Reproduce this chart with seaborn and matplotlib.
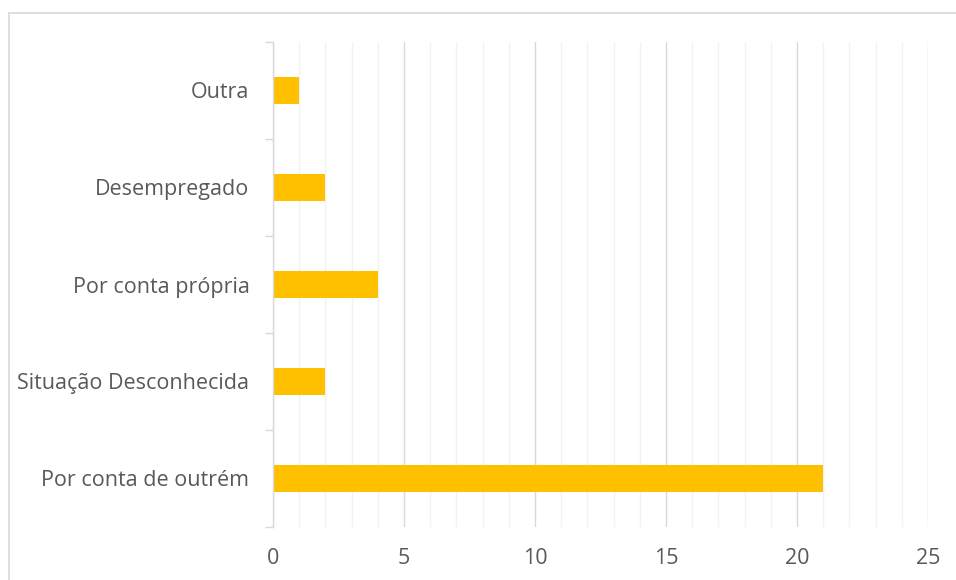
import matplotlib
matplotlib.use("Agg")
import matplotlib.pyplot as plt
import matplotlib.patches as mpatches
from matplotlib.ticker import MultipleLocator, FixedLocator
import pandas as pd
import seaborn as sns

categorias = ["Outra", "Desempregado", "Por conta própria",
              "Situação Desconhecida", "Por conta de outrém"]
valores = [1, 2, 4, 2, 21]

df = pd.DataFrame({"Situação": categorias, "Número": valores})

sns.set_style("white")
plt.rcParams["font.family"] = ["Open Sans", "DejaVu Sans"]

fig = plt.figure(figsize=(9.56, 5.8), dpi=100)
ax = fig.add_axes([273 / 956, 1 - 527 / 580, (928 - 273) / 956, (527 - 42) / 580])

sns.barplot(data=df, x="Número", y="Situação", order=categorias, orient="h",
            color="#FFC000", saturation=1, width=0.27, linewidth=0,
            ax=ax, zorder=3)

ax.set_xlim(0, 25)
ax.set_ylim(4.5, -0.5)
ax.xaxis.set_major_locator(MultipleLocator(5))
ax.xaxis.set_minor_locator(MultipleLocator(1))
ax.grid(axis="x", which="minor", color="#f2f2f2", linewidth=1, zorder=0)
ax.grid(axis="x", which="major", color="#d9d9d9", linewidth=1, zorder=1)
ax.set_axisbelow(True)

ax.yaxis.set_minor_locator(FixedLocator([-0.5, 0.5, 1.5, 2.5, 3.5, 4.5]))
ax.tick_params(axis="y", which="major", length=0, pad=17, labelsize=15.5,
               labelcolor="#595959")
ax.tick_params(axis="y", which="minor", length=6, width=1, color="#d9d9d9", left=True)
ax.tick_params(axis="x", which="both", length=0, pad=15, labelsize=15.5,
               labelcolor="#595959")

for s in ["top", "right", "bottom"]:
    ax.spines[s].set_visible(False)
ax.spines["left"].set_color("#d9d9d9")
ax.spines["left"].set_linewidth(1)
ax.spines["left"].set_zorder(4)

ax.set_xlabel("")
ax.set_ylabel("")

fig.patches.append(mpatches.Rectangle((8.5 / 956, -0.1), 1.2, 1 - 12.5 / 580 + 0.1,
                                      transform=fig.transFigure, fill=False,
                                      edgecolor="#d9d9d9", linewidth=1.2))

fig.savefig("out.png", dpi=100)
